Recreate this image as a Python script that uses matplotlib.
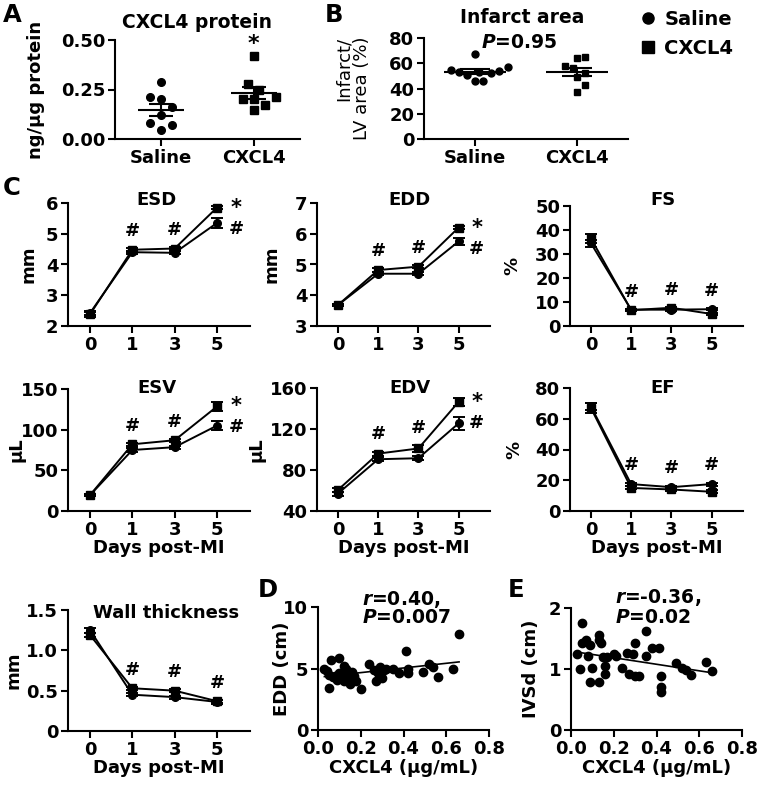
import numpy as np
import matplotlib
matplotlib.use('Agg')
import matplotlib.pyplot as plt
from matplotlib.lines import Line2D

plt.rcParams['font.family'] = ['DejaVu Sans']
plt.rcParams['font.weight'] = 'bold'
plt.rcParams['mathtext.fontset'] = 'custom'
plt.rcParams['mathtext.it'] = 'DejaVu Sans:italic:bold'
plt.rcParams['mathtext.rm'] = 'DejaVu Sans:bold'

# ---- data: panel A (ng/ug protein) ----
a_saline = [0.29, 0.21, 0.20, 0.16, 0.12, 0.08, 0.07, 0.045]
a_cxcl4 = [0.42, 0.28, 0.25, 0.20, 0.21, 0.20, 0.17, 0.145]

# ---- panel B (infarct / LV area %) ----
b_saline = [67, 57, 55, 54, 53, 53, 52, 51, 46, 46]
b_cxcl4 = [65, 64, 58, 56, 52, 49, 43, 37]

groups = ['Saline', 'CXCL4']

# ---- panel C: echo time course (mean, sem) ----
days = ['0', '1', '3', '5']
esd_saline = [2.42, 4.40, 4.38, 5.35]
esd_saline_sem = [0.06, 0.05, 0.05, 0.15]
esd_cxcl4 = [2.38, 4.48, 4.52, 5.85]
esd_cxcl4_sem = [0.08, 0.06, 0.05, 0.06]
edd_saline = [3.68, 4.70, 4.70, 5.75]
edd_saline_sem = [0.04, 0.05, 0.05, 0.12]
edd_cxcl4 = [3.68, 4.82, 4.93, 6.20]
edd_cxcl4_sem = [0.04, 0.05, 0.06, 0.06]
fs_saline = [34.5, 6.8, 6.8, 7.0]
fs_saline_sem = [1.5, 0.4, 0.4, 0.5]
fs_cxcl4 = [36.5, 6.6, 7.6, 5.0]
fs_cxcl4_sem = [2.0, 0.4, 0.5, 0.5]
esv_saline = [19.5, 75, 78.5, 105]
esv_saline_sem = [1, 2, 2, 6]
esv_cxcl4 = [19.5, 82, 87, 128.5]
esv_cxcl4_sem = [1, 2, 2, 5]
edv_saline = [57, 90.5, 91.5, 125.5]
edv_saline_sem = [2, 2, 2, 6]
edv_cxcl4 = [60.5, 96, 101, 146.5]
edv_cxcl4_sem = [2, 2, 3, 4]
ef_saline = [68, 17.5, 15.5, 17.5]
ef_saline_sem = [2, 1, 1, 1]
ef_cxcl4 = [67, 15, 14, 12.5]
ef_cxcl4_sem = [3, 1, 1, 1]
wt_saline = [1.25, 0.45, 0.42, 0.36]
wt_saline_sem = [0.03, 0.02, 0.02, 0.02]
wt_cxcl4 = [1.19, 0.53, 0.50, 0.37]
wt_cxcl4_sem = [0.03, 0.02, 0.02, 0.02]

# ---- panel D: EDD vs plasma CXCL4 ----
d_x = [0.03, 0.04, 0.05, 0.05, 0.06, 0.07, 0.08, 0.09, 0.10, 0.10, 0.11, 0.12,
       0.12, 0.13, 0.13, 0.14, 0.15, 0.15, 0.16, 0.17, 0.18, 0.20, 0.24, 0.26,
       0.27, 0.28, 0.29, 0.30, 0.31, 0.32, 0.35, 0.38, 0.41, 0.42, 0.42, 0.49,
       0.52, 0.54, 0.56, 0.63, 0.66]
d_y = [4.95, 4.8, 4.5, 3.4, 5.7, 4.3, 4.4, 4.1, 5.85, 4.6, 4.4, 3.95,
       5.2, 5.0, 4.8, 4.6, 3.7, 4.2, 4.7, 4.4, 4.0, 3.3, 5.35, 4.9,
       4.0, 4.6, 5.1, 4.2, 4.9, 5.0, 5.0, 4.6, 6.45, 5.0, 4.6, 4.7,
       5.35, 5.1, 4.3, 5.0, 7.8]

# ---- panel E: IVSd vs plasma CXCL4 ----
e_x = [0.03, 0.04, 0.05, 0.05, 0.07, 0.08, 0.09, 0.09, 0.10, 0.13, 0.13, 0.13,
       0.14, 0.15, 0.16, 0.16, 0.17, 0.20, 0.21, 0.24, 0.26, 0.27, 0.29, 0.30,
       0.30, 0.32, 0.35, 0.35, 0.38, 0.41, 0.42, 0.42, 0.42, 0.49, 0.52, 0.54,
       0.56, 0.63, 0.66]
e_y = [1.25, 1.0, 1.75, 1.42, 1.47, 1.22, 1.40, 0.78, 1.01, 0.79, 1.56, 1.48,
       1.42, 1.2, 1.05, 0.92, 1.2, 1.25, 1.22, 1.01, 1.26, 0.92, 1.25, 0.89,
       1.42, 0.88, 1.63, 1.22, 1.34, 1.35, 0.71, 0.63, 0.89, 1.1, 1.01, 0.99,
       0.9, 1.12, 0.96]

# ---- layout helpers (pixel coords of the 758x791 canvas) ----
W, H = 758, 791
fig = plt.figure(figsize=(W / 100, H / 100), dpi=100)

TICK_FS = 13
TITLE_FS = 13
LW = 1.5


def box(l, t, r, b):
    return fig.add_axes([l / W, 1 - b / H, (r - l) / W, (b - t) / H])


def ftext(x, y, s, **kw):
    return fig.text(x / W, 1 - y / H, s, **kw)


def style(ax):
    for side in ['top', 'right']:
        ax.spines[side].set_visible(False)
    for side in ['left', 'bottom']:
        ax.spines[side].set_linewidth(LW)
    ax.tick_params(width=LW, length=5, pad=2, labelsize=TICK_FS)
    for lab in ax.get_xticklabels() + ax.get_yticklabels():
        lab.set_fontweight('bold')


def swarm(vals, dx, dy):
    # simple beeswarm: put each point as close to the centre as it can go
    vals = np.asarray(vals, float)
    offs = np.zeros(len(vals))
    placed = []
    for i in np.argsort(vals):
        y = vals[i]
        for k in range(60):
            cands = [0.0] if k == 0 else [k * dx * 0.5, -k * dx * 0.5]
            hit = None
            for c in cands:
                if all(((c - px) / dx) ** 2 + ((y - py) / dy) ** 2 >= 1 for px, py in placed):
                    hit = c
                    break
            if hit is not None:
                offs[i] = hit
                break
        placed.append((offs[i], y))
    return offs


def dot_panel(ax, data, dx, dy, ms, mean_w, sem_w):
    for i, (vals, mk) in enumerate(zip(data, ['o', 's'])):
        vals = np.asarray(vals, float)
        ax.plot(i + swarm(vals, dx, dy), vals, mk, color='k', ms=ms,
                clip_on=False, zorder=3)
        m = vals.mean()
        s = vals.std(ddof=1) / np.sqrt(len(vals))
        ax.hlines(m, i - mean_w, i + mean_w, color='k', lw=LW, zorder=4)
        ax.hlines([m - s, m + s], i - sem_w, i + sem_w, color='k', lw=LW, zorder=4)
        ax.vlines(i, m - s, m + s, color='k', lw=LW, zorder=4)
    ax.set_xlim(-0.5, 1.5)
    ax.set_xticks([0, 1])
    ax.set_xticklabels(groups)


def line_panel(ax, sal, sal_sem, cx, cx_sem, yticks, marks):
    ax.errorbar(days, sal, yerr=sal_sem, fmt='-o', color='k', ms=5.5, lw=1.4,
                capsize=4, elinewidth=1.4, capthick=1.4, clip_on=False, zorder=3)
    ax.errorbar(days, cx, yerr=cx_sem, fmt='-s', color='k', ms=5.5, lw=1.4,
                capsize=4, elinewidth=1.4, capthick=1.4, clip_on=False, zorder=3)
    lo, hi = yticks[0], yticks[-1]
    rng = hi - lo
    ax.set_ylim(lo, hi)
    ax.set_yticks(yticks)
    ax.set_xlim(-0.52, 3.78)
    top = np.maximum(np.add(sal, sal_sem), np.add(cx, cx_sem))
    n_above = 4 if marks == 'above' else 3
    for i in range(1, n_above):
        ax.text(i, top[i] + 0.14 * rng, '#', ha='center', va='center',
                fontsize=13, fontweight='bold')
    if marks == 'side':
        ys = cx[3]
        ax.text(3.45, ys, '*', ha='center', va='center', fontsize=15, fontweight='bold')
        ax.text(3.45, ys - 0.17 * rng, '#', ha='center', va='center', fontsize=13,
                fontweight='bold')


def scatter_panel(ax, x, y, xlim, yticks):
    ax.plot(x, y, 'o', color='k', ms=6, clip_on=False, zorder=3)
    k, b = np.polyfit(x, y, 1)
    xs = np.array([min(x), max(x)])
    ax.plot(xs, k * xs + b, color='k', lw=1.2, zorder=4)
    ax.set_xlim(*xlim)
    ax.set_xticks(np.arange(0, 0.81, 0.2))
    ax.set_xticklabels(['%.1f' % v for v in np.arange(0, 0.81, 0.2)])
    ax.set_ylim(yticks[0], yticks[-1])
    ax.set_yticks(yticks)
    ax.set_xlabel('CXCL4 (µg/mL)', fontsize=TICK_FS, fontweight='bold', labelpad=1)


# ---- panel A ----
axA = box(115, 40, 300, 139)
dot_panel(axA, [a_saline, a_cxcl4], 0.12, 0.05, 5.5, 0.25, 0.13)
axA.set_ylim(0, 0.5)
axA.set_yticks([0, 0.25, 0.5])
axA.set_yticklabels(['0.00', '0.25', '0.50'])
axA.set_ylabel('ng/µg protein', fontsize=TICK_FS, fontweight='bold')
style(axA)
axA.yaxis.set_label_coords(-0.38, 0.5)
axA.text(1, max(a_cxcl4) + 0.06, '*', ha='center', va='center', fontsize=16,
         fontweight='bold')
ftext(197, 28, 'CXCL4 protein', ha='center', va='baseline', fontsize=13.5,
      fontweight='bold')

# ---- panel B ----
axB = box(424, 38, 628, 139)
dot_panel(axB, [b_saline, b_cxcl4], 0.08, 8, 5.0, 0.3, 0.15)
axB.set_ylim(0, 80)
axB.set_yticks([0, 20, 40, 60, 80])
axB.set_ylabel('Infarct/\nLV area (%)', fontsize=13, fontweight='normal',
               multialignment='right', linespacing=1.0)
style(axB)
axB.yaxis.set_label_coords(-0.26, 0.5)
ftext(522, 23, 'Infarct area', ha='center', va='baseline', fontsize=13.5,
      fontweight='bold')
ftext(519, 48, '$P$=0.95', ha='center', va='baseline', fontsize=13.5, fontweight='bold')

leg = [Line2D([], [], ls='none', marker='o', color='k', ms=8),
       Line2D([], [], ls='none', marker='s', color='k', ms=8)]
fig.legend(leg, groups, loc='upper left', bbox_to_anchor=(641 / W, 1 - 10 / H),
           frameon=False, prop={'weight': 'bold', 'size': 14}, handlelength=0.7,
           handletextpad=0.5, labelspacing=0.5, borderpad=0, borderaxespad=0)

# ---- panel C ----
panels = [
    ((68, 203, 250, 326), esd_saline, esd_saline_sem, esd_cxcl4, esd_cxcl4_sem,
     [2, 3, 4, 5, 6], 'side', 'ESD', 'mm', (157, 205), -0.165, False),
    ((317, 203, 490, 326), edd_saline, edd_saline_sem, edd_cxcl4, edd_cxcl4_sem,
     [3, 4, 5, 6, 7], 'side', 'EDD', 'mm', (409, 205), -0.21, False),
    ((570, 206, 743, 326), fs_saline, fs_saline_sem, fs_cxcl4, fs_cxcl4_sem,
     [0, 10, 20, 30, 40, 50], 'above', 'FS', '%', (663, 205), -0.28, False),
    ((68, 389, 250, 511), esv_saline, esv_saline_sem, esv_cxcl4, esv_cxcl4_sem,
     [0, 50, 100, 150], 'side', 'ESV', 'µL', (157, 393), -0.236, True),
    ((317, 388, 490, 511), edv_saline, edv_saline_sem, edv_cxcl4, edv_cxcl4_sem,
     [40, 80, 120, 160], 'side', 'EDV', 'µL', (410, 393), -0.30, True),
    ((570, 388, 743, 511), ef_saline, ef_saline_sem, ef_cxcl4, ef_cxcl4_sem,
     [0, 20, 40, 60, 80], 'above', 'EF', '%', (663, 393), -0.27, True),
    ((68, 610, 250, 731), wt_saline, wt_saline_sem, wt_cxcl4, wt_cxcl4_sem,
     [0, 0.5, 1.0, 1.5], 'above', 'Wall thickness', 'mm', (166, 618), -0.25, True),
]
for rect, s, ss, c, cs, yt, marks, title, ylab, tpos, lx, xl in panels:
    ax = box(*rect)
    line_panel(ax, s, ss, c, cs, yt, marks)
    if title == 'Wall thickness':
        ax.set_yticklabels(['0', '0.5', '1.0', '1.5'])
    ax.set_ylabel(ylab, fontsize=TICK_FS, fontweight='bold')
    if xl:
        ax.set_xlabel('Days post-MI', fontsize=TICK_FS, fontweight='bold', labelpad=0)
    style(ax)
    ax.yaxis.set_label_coords(lx, 0.5)
    ftext(tpos[0], tpos[1], title, ha='center', va='baseline', fontsize=TITLE_FS,
          fontweight='bold')

# ---- panels D and E ----
axD = box(318, 607, 489, 730)
scatter_panel(axD, d_x, d_y, (0, 0.8), [0, 5, 10])
axD.set_ylabel('EDD (cm)', fontsize=TICK_FS, fontweight='bold')
style(axD)
axD.yaxis.set_label_coords(-0.16, 0.5)
ftext(362, 605, '$r$=0.40,', ha='left', va='baseline', fontsize=13.5, fontweight='bold')
ftext(362, 623, '$P$=0.007', ha='left', va='baseline', fontsize=13.5, fontweight='bold')

axE = box(571, 608, 742, 730)
scatter_panel(axE, e_x, e_y, (0, 0.8), [0, 1, 2])
axE.set_ylabel('IVSd (cm)', fontsize=TICK_FS, fontweight='bold')
style(axE)
axE.yaxis.set_label_coords(-0.18, 0.5)
ftext(615, 603, '$r$=-0.36,', ha='left', va='baseline', fontsize=13.5, fontweight='bold')
ftext(615, 623, '$P$=0.02', ha='left', va='baseline', fontsize=13.5, fontweight='bold')

# ---- panel letters ----
for letter, x, y in [('A', 3, 22), ('B', 325, 22), ('C', 3, 195), ('D', 258, 597),
                     ('E', 508, 597)]:
    ftext(x, y, letter, ha='left', va='baseline', fontsize=17.5, fontweight='bold')

fig.savefig('out.png', dpi=100)
